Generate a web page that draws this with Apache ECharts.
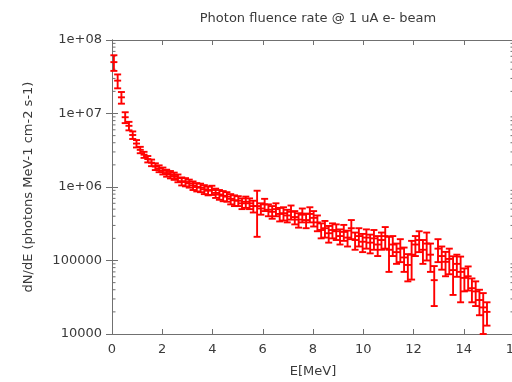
<!DOCTYPE html>
<html>
<head>
<meta charset="utf-8">
<script src="https://cdn.jsdelivr.net/npm/echarts@6/dist/echarts.min.js"></script>
<style>
html,body{margin:0;padding:0;background:#fff;overflow:hidden;}
#chart{width:516px;height:382px;}
</style>
</head>
<body>
<div id="chart"></div>
<script>
// Energy bin centres (MeV)
const energy = [0.075,0.225,0.375,0.525,0.675,0.825,0.975,1.125,1.275,1.425,
1.575,1.725,1.875,2.025,2.175,2.325,2.475,2.625,2.775,2.925,
3.075,3.225,3.375,3.525,3.675,3.825,3.975,4.125,4.275,4.425,
4.575,4.725,4.875,5.025,5.175,5.325,5.475,5.625,5.775,5.925,
6.075,6.225,6.375,6.525,6.675,6.825,6.975,7.125,7.275,7.425,
7.575,7.725,7.875,8.025,8.175,8.325,8.475,8.625,8.775,8.925,
9.075,9.225,9.375,9.525,9.675,9.825,9.975,10.125,10.275,10.425,
10.575,10.725,10.875,11.025,11.175,11.325,11.475,11.625,11.775,11.925,
12.075,12.225,12.375,12.525,12.675,12.825,12.975,13.125,13.275,13.425,
13.575,13.725,13.875,14.025,14.175,14.325,14.475,14.625,14.775,14.925];
// dN/dE values
const flux = [5.0e7,2.8e7,1.66e7,8.9e6,6.8e6,5.1e6,3.9e6,3.2e6,2.75e6,2.4e6,
2.14e6,1.9e6,1.78e6,1.66e6,1.55e6,1.48e6,1.41e6,1.32e6,1.2e6,1.17e6,
1.12e6,1.05e6,1.0e6,9.8e5,9.3e5,8.9e5,9.1e5,8.3e5,7.9e5,7.6e5,
7.4e5,6.9e5,6.6e5,6.5e5,6.0e5,6.3e5,6.0e5,5.5e5,5.5e5,5.1e5,
5.8e5,4.9e5,4.6e5,5.0e5,4.3e5,4.4e5,4.1e5,4.6e5,3.9e5,3.6e5,
4.2e5,3.55e5,4.3e5,3.8e5,3.3e5,2.6e5,2.75e5,2.35e5,2.6e5,2.5e5,
2.15e5,2.45e5,2.05e5,2.75e5,1.9e5,2.15e5,1.8e5,2.05e5,1.75e5,2.0e5,
1.65e5,1.9e5,2.15e5,1.4e5,1.65e5,1.3e5,1.45e5,1.1e5,8.7e4,1.2e5,
1.65e5,1.9e5,1.4e5,1.7e5,1.2e5,5.4e4,1.45e5,1.15e5,9.6e4,1.05e5,
7.4e4,9.0e4,7.0e4,5.8e4,6.1e4,4.2e4,3.8e4,2.9e4,2.3e4,2.0e4];
// symmetric errors
const fluxErr = [1.2e7,6e6,3e6,1.5e6,9e5,6e5,4.5e5,3.2e5,2.6e5,2.4e5,
2.2e5,2e5,1.9e5,1.8e5,1.7e5,1.7e5,1.6e5,1.6e5,1.5e5,1.5e5,
1.4e5,1.4e5,1.3e5,1.3e5,1.3e5,1.2e5,1.3e5,1.2e5,1.2e5,1.2e5,
1.1e5,1.1e5,1.1e5,1.0e5,1.0e5,1.1e5,1.0e5,1.0e5,3.4e5,9e4,
1.1e5,9e4,9e4,1.0e5,9e4,9e4,8e4,1.0e5,8e4,8e4,
9e4,8e4,1.0e5,9e4,8e4,6e4,7e4,6e4,6e4,6e4,
5e4,6e4,5e4,8e4,5e4,6e4,5e4,6e4,5e4,6e4,
5e4,5e4,7e4,7e4,5e4,4e4,5e4,4e4,3.5e4,6.5e4,
5e4,6e4,5e4,7e4,5e4,3.0e4,5e4,4e4,3.5e4,4e4,
4e4,3e4,4.3e4,2e4,2.2e4,1.5e4,1.4e4,1.1e4,1.3e4,7e3];

const yTickLabels = ['10000','100000','1e+06','1e+07','1e+08'];
const xTickValues = [0,2,4,6,8,10,12,14,16];

const titleText = 'Photon fluence rate @ 1 uA e- beam';
const xName = 'E[MeV]';
const yName = 'dN/dE (photons MeV-1 cm-2 s-1)';

const FONT = 'DejaVu Sans';
const FS = 13;
const AX = '#707070';
const TXT = '#3a3a3a';

// minor log ticks (axis decoration)
const minorTicks = [];
for (let d = 4; d < 8; d++) {
  for (let m = 2; m <= 9; m++) {
    minorTicks.push([0, m * Math.pow(10, d), 1]);
    minorTicks.push([16, m * Math.pow(10, d), -1]);
  }
}

const errData = energy.map((e, i) => [e, flux[i], flux[i] - fluxErr[i], flux[i] + fluxErr[i]]);

const chart = echarts.init(document.getElementById('chart'), null, {renderer: 'canvas'});
chart.setOption({
  animation: false,
  backgroundColor: '#fff',
  title: {
    text: titleText, left: 313, top: 7, textAlign: 'center',
    textStyle: {fontFamily: FONT, fontSize: FS, fontWeight: 'normal', color: TXT}
  },
  grid: {left: 112, top: 40, right: 2, bottom: 48, containLabel: false, outerBoundsMode: 'none'},
  xAxis: [{
    type: 'value', min: 0, max: 16, interval: 2, position: 'bottom',
    name: xName, nameLocation: 'middle', nameGap: 31,
    nameTextStyle: {fontFamily: FONT, fontSize: FS, color: TXT},
    axisLine: {show: true, lineStyle: {color: AX, width: 1}},
    axisTick: {show: true, inside: true, length: 5, lineStyle: {color: AX}},
    axisLabel: {fontFamily: FONT, fontSize: FS, color: TXT, margin: 9,
      formatter: v => xTickValues.indexOf(v) >= 0 ? String(v) : ''},
    splitLine: {show: false}
  }, {
    type: 'value', min: 0, max: 16, interval: 2, position: 'top',
    axisLine: {show: true, lineStyle: {color: AX, width: 1}},
    axisTick: {show: true, inside: true, length: 5, lineStyle: {color: AX}},
    axisLabel: {show: false}, splitLine: {show: false}
  }],
  yAxis: [{
    type: 'log', logBase: 10, min: 1e4, max: 1e8, position: 'left',
    name: yName, nameLocation: 'middle', nameGap: 77, nameRotate: 90,
    nameTextStyle: {fontFamily: FONT, fontSize: FS, color: TXT},
    axisLine: {show: true, lineStyle: {color: AX, width: 1}},
    axisTick: {show: true, inside: true, length: 6, lineStyle: {color: AX}},
    axisLabel: {fontFamily: FONT, fontSize: FS, color: TXT, margin: 10,
      formatter: v => yTickLabels[Math.round(Math.log10(v)) - 4] || ''},
    splitLine: {show: false}
  }, {
    type: 'log', logBase: 10, min: 1e4, max: 1e8, position: 'right',
    axisLine: {show: true, lineStyle: {color: AX, width: 1}},
    axisTick: {show: true, inside: true, length: 6, lineStyle: {color: AX}},
    axisLabel: {show: false}, splitLine: {show: false}
  }],
  series: [{
    type: 'custom', name: 'minor', silent: true, clip: false,
    xAxisIndex: 0, yAxisIndex: 0,
    data: minorTicks,
    renderItem: (params, api) => {
      const p = api.coord([api.value(0), api.value(1)]);
      const dir = api.value(2);
      return {type: 'line', shape: {x1: p[0], y1: p[1], x2: p[0] + dir * 3.5, y2: p[1]},
        style: {stroke: AX, lineWidth: 1}};
    }
  }, {
    type: 'custom', name: 'flux', clip: false,
    xAxisIndex: 0, yAxisIndex: 0,
    data: errData,
    encode: {x: 0, y: [1, 2, 3]},
    renderItem: (params, api) => {
      const x = api.value(0);
      const c = api.coord([x, api.value(1)]);
      const lo = api.coord([x, api.value(2)]);
      const hi = api.coord([x, api.value(3)]);
      const w = 3.5;
      const st = {stroke: '#ff0000', lineWidth: 1.9};
      return {type: 'group', children: [
        {type: 'line', shape: {x1: lo[0], y1: lo[1], x2: hi[0], y2: hi[1]}, style: st},
        {type: 'line', shape: {x1: lo[0] - w, y1: lo[1], x2: lo[0] + w, y2: lo[1]}, style: st},
        {type: 'line', shape: {x1: hi[0] - w, y1: hi[1], x2: hi[0] + w, y2: hi[1]}, style: st},
        {type: 'line', shape: {x1: c[0] - 3.5, y1: c[1], x2: c[0] + 3.5, y2: c[1]}, style: st}
      ]};
    }
  }]
});
</script>
</body>
</html>
